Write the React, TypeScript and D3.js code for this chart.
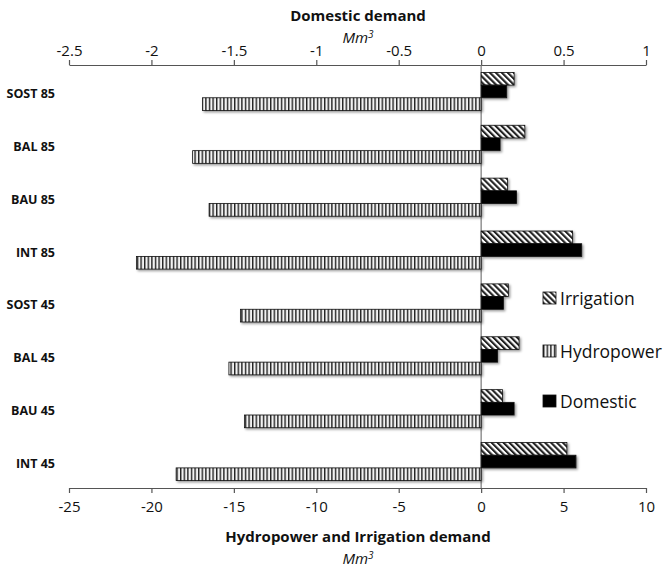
import React from 'react';
import * as d3 from 'd3';

// scenarios, top to bottom
const categories = ["SOST 85", "BAL 85", "BAU 85", "INT 85", "SOST 45", "BAL 45", "BAU 45", "INT 45"];
// Mm3, bottom axis
const irrigation = [2.0, 2.65, 1.6, 5.55, 1.65, 2.3, 1.3, 5.2];
const hydropower = [-16.9, -17.5, -16.5, -20.9, -14.6, -15.3, -14.35, -18.5];
// Mm3, top axis
const domestic = [0.155, 0.115, 0.215, 0.61, 0.135, 0.1, 0.2, 0.575];

const bottomTicks = [-25, -20, -15, -10, -5, 0, 5, 10];
const topTicks = [-2.5, -2, -1.5, -1, -0.5, 0, 0.5, 1];
const seriesOrder = ["Irrigation", "Domestic", "Hydropower"];
const legendItems = ["Irrigation", "Hydropower", "Domestic"];

const FONT = "'Open Sans', 'DejaVu Sans', sans-serif";

function App() {
  const ref = React.useRef<SVGSVGElement>(null);

  React.useEffect(() => {
    const svg = d3.select(ref.current);
    svg.selectAll("*").remove();

    const x0 = 69, x1 = 646, yTop = 65, yBot = 488;

    const xBottom = d3.scaleLinear().domain([-25, 10]).range([x0, x1]);
    const xTop = d3.scaleLinear().domain([-2.5, 1]).range([x0, x1]);
    const y = d3.scaleBand().domain(categories).range([yTop, yBot])
      .paddingInner(0.28).paddingOuter(0.14);
    const ySub = d3.scaleBand().domain(seriesOrder).range([0, y.bandwidth()]);

    // patterns + shadow
    const defs = svg.append("defs");
    const diag = defs.append("pattern")
      .attr("id", "pat-irr")
      .attr("patternUnits", "userSpaceOnUse")
      .attr("width", 4.2).attr("height", 10)
      .attr("patternTransform", "rotate(-45)");
    diag.append("rect").attr("width", 4.2).attr("height", 10).attr("fill", "#fff");
    diag.append("rect").attr("width", 2.1).attr("height", 10).attr("fill", "#222");

    const vert = defs.append("pattern")
      .attr("id", "pat-hyd")
      .attr("patternUnits", "userSpaceOnUse")
      .attr("width", 3.6).attr("height", 10);
    vert.append("rect").attr("width", 3.6).attr("height", 10).attr("fill", "#f2f2f2");
    vert.append("rect").attr("width", 1.4).attr("height", 10).attr("fill", "#222");

    const shadow = defs.append("filter").attr("id", "shadow")
      .attr("x", "-10%").attr("y", "-30%").attr("width", "130%").attr("height", "180%");
    shadow.append("feDropShadow")
      .attr("dx", 1.5).attr("dy", 1.5).attr("stdDeviation", 1)
      .attr("flood-color", "#000").attr("flood-opacity", 0.4);

    // top axis (domestic)
    const topAxis = svg.append("g")
      .attr("transform", "translate(0," + yTop + ")")
      .call(d3.axisTop(xTop).tickValues(topTicks).tickSize(5).tickSizeOuter(0)
        .tickFormat(d => String(d)));

    // bottom axis (hydropower + irrigation)
    const bottomAxis = svg.append("g")
      .attr("transform", "translate(0," + yBot + ")")
      .call(d3.axisBottom(xBottom).tickValues(bottomTicks).tickSize(5).tickSizeOuter(0)
        .tickFormat(d => String(d)));

    [topAxis, bottomAxis].forEach(ax => {
      ax.selectAll("path, line").attr("stroke", "#555").attr("stroke-width", 1.2);
      ax.selectAll("text").attr("font-family", FONT).attr("font-size", 15).attr("fill", "#111");
    });
    topAxis.selectAll("text").attr("y", -9);
    bottomAxis.selectAll("text").attr("y", 13);

    // zero line
    svg.append("line")
      .attr("x1", xBottom(0)).attr("x2", xBottom(0))
      .attr("y1", yTop).attr("y2", yBot)
      .attr("stroke", "#777").attr("stroke-width", 1.2);

    const bars = svg.append("g").attr("filter", "url(#shadow)");

    function drawBars(values, key, scale, fill) {
      bars.selectAll(".bar-" + key)
        .data(values)
        .enter()
        .append("rect")
        .attr("class", "bar-" + key)
        .attr("x", d => Math.min(scale(0), scale(d)))
        .attr("width", d => Math.abs(scale(d) - scale(0)))
        .attr("y", (d, i) => y(categories[i]) + ySub(key))
        .attr("height", ySub.bandwidth())
        .attr("fill", fill)
        .attr("stroke", "#111")
        .attr("stroke-width", 0.8);
    }
    drawBars(irrigation, "Irrigation", xBottom, "url(#pat-irr)");
    drawBars(domestic, "Domestic", xTop, "#000");
    drawBars(hydropower, "Hydropower", xBottom, "url(#pat-hyd)");

    // category labels
    svg.append("g").selectAll("text")
      .data(categories)
      .enter()
      .append("text")
      .attr("x", 55)
      .attr("y", d => y(d) + y.bandwidth() / 2 + 2)
      .attr("text-anchor", "end")
      .attr("dominant-baseline", "central")
      .attr("font-family", FONT)
      .attr("font-weight", "bold")
      .attr("font-size", 12.5)
      .attr("fill", "#111")
      .text(d => d);

    // axis titles
    const titleX = 358;
    function title(text, yPos) {
      svg.append("text")
        .attr("x", titleX).attr("y", yPos)
        .attr("text-anchor", "middle")
        .attr("font-family", FONT).attr("font-weight", "bold").attr("font-size", 15)
        .attr("fill", "#111")
        .text(text);
    }
    function unit(yPos) {
      const t = svg.append("text")
        .attr("x", titleX).attr("y", yPos)
        .attr("text-anchor", "middle")
        .attr("font-family", FONT).attr("font-style", "italic").attr("font-size", 15)
        .attr("fill", "#111");
      t.append("tspan").text("Mm");
      t.append("tspan").attr("font-size", 10).attr("dy", -5).text("3");
    }
    title("Domestic demand", 21);
    unit(43);
    title("Hydropower and Irrigation demand", 542);
    unit(564);

    // legend
    const legendY = [298, 351, 401];
    const legendFill = {
      Irrigation: "url(#pat-irr)",
      Hydropower: "url(#pat-hyd)",
      Domestic: "#000"
    };
    const lg = svg.append("g").selectAll("g")
      .data(legendItems)
      .enter()
      .append("g")
      .attr("transform", (d, i) => "translate(543," + legendY[i] + ")");
    lg.append("rect")
      .attr("x", 0).attr("y", -6)
      .attr("width", 13).attr("height", 12)
      .attr("fill", d => legendFill[d])
      .attr("stroke", "#111").attr("stroke-width", 0.8);
    lg.append("text")
      .attr("x", 17).attr("y", 0)
      .attr("dominant-baseline", "central")
      .attr("font-family", FONT).attr("font-size", 17.5)
      .attr("fill", "#111")
      .text(d => d);
  }, []);

  return (
    <svg ref={ref} width={665} height={568}
      style={{ position: "absolute", left: 0, top: 0, background: "#fff" }} />
  );
}

export default App;
